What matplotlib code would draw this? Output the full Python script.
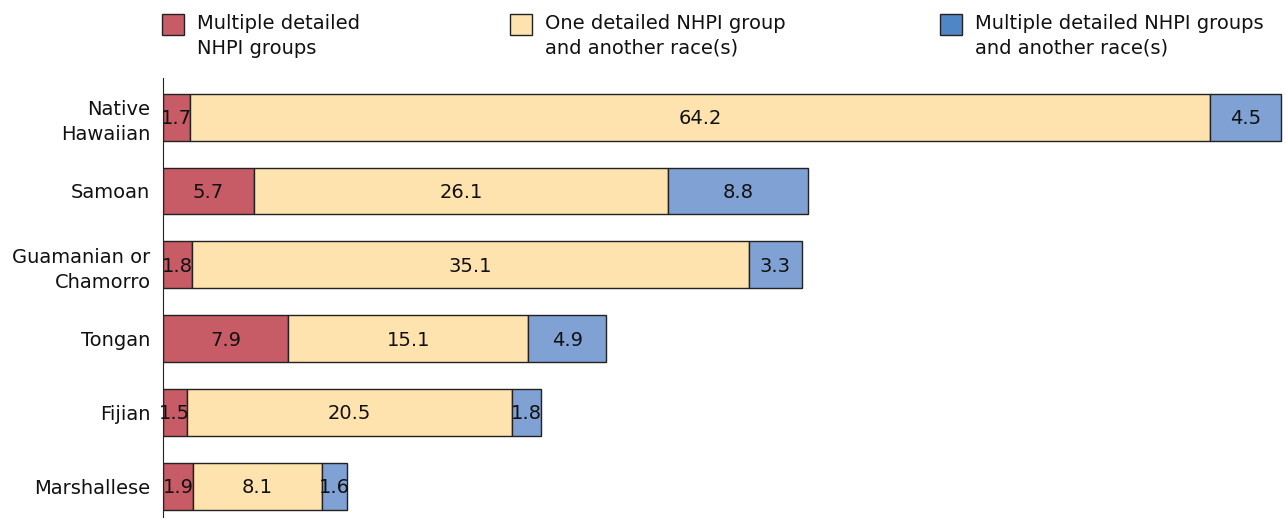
import matplotlib.pyplot as plt
from matplotlib.patches import Rectangle

# data
groups = ['Native\nHawaiian', 'Samoan', 'Guamanian or\nChamorro', 'Tongan', 'Fijian', 'Marshallese']
multi_nhpi = [1.7, 5.7, 1.8, 7.9, 1.5, 1.9]
one_nhpi_other = [64.2, 26.1, 35.1, 15.1, 20.5, 8.1]
multi_nhpi_other = [4.5, 8.8, 3.3, 4.9, 1.8, 1.6]
series_names = ['Multiple detailed\nNHPI groups',
                'One detailed NHPI group\nand another race(s)',
                'Multiple detailed NHPI groups\nand another race(s)']

bar_colors = ['#c75c66', '#fee3ae', '#7fa1d4']
legend_colors = ['#c75c66', '#fee3ae', '#4f86c6']

plt.rcParams['font.family'] = 'DejaVu Sans'
fig = plt.figure(figsize=(12.86, 5.18), dpi=100)
ax = fig.add_axes([163 / 1286, 0, 1 - 163 / 1286, 440 / 518])

y = list(range(len(groups)))
left = [0] * len(groups)
for vals, col in zip([multi_nhpi, one_nhpi_other, multi_nhpi_other], bar_colors):
    ax.barh(y, vals, left=left, height=0.635, color=col, edgecolor='#222222', linewidth=1)
    for yi, l, v in zip(y, left, vals):
        ax.text(l + v / 2, yi + 0.02, f'{v}', ha='center', va='center', fontsize=14, color='#111111')
    left = [a + b for a, b in zip(left, vals)]

ax.set_xlim(0, 70.7)
ax.set_ylim(5.43, -0.53)
ax.set_yticks(y)
ax.set_yticklabels(groups, fontsize=14, color='#111111', linespacing=1.4)
ax.tick_params(axis='y', length=0, pad=9)
ax.set_xticks([])
for s in ['top', 'right', 'bottom']:
    ax.spines[s].set_visible(False)
ax.spines['left'].set_color('#222222')

# legend
sq_x = [162, 510, 940]
txt_x = [197, 545, 975]
for x0, tx, name, col in zip(sq_x, txt_x, series_names, legend_colors):
    fig.add_artist(Rectangle((x0 / 1286, 1 - 35 / 518), 22 / 1286, 21 / 518,
                             transform=fig.transFigure, facecolor=col,
                             edgecolor='#222222', linewidth=1))
    fig.text(tx / 1286, 1 - 14 / 518, name, ha='left', va='top',
             fontsize=14, color='#111111', linespacing=1.4)

fig.savefig('out.png', dpi=100)
